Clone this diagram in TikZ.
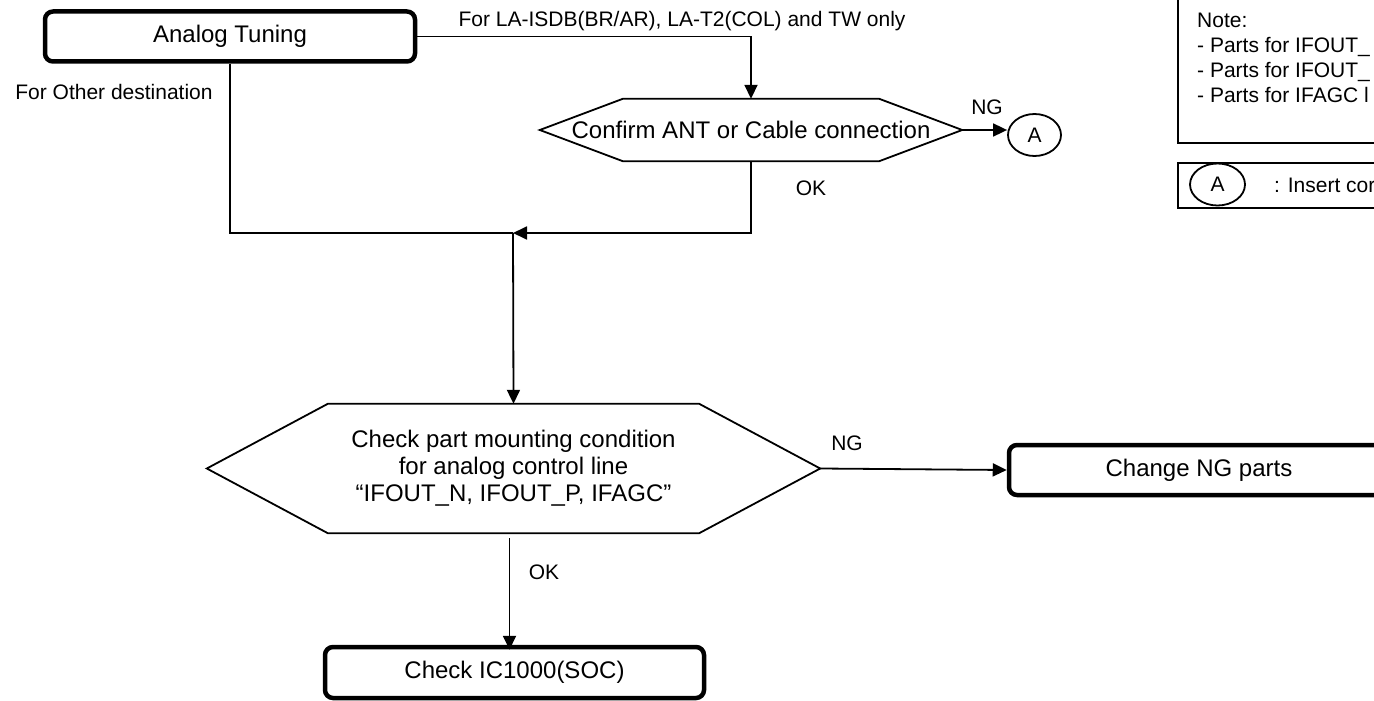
\documentclass[tikz,border=0pt]{standalone}
\usepackage{fontspec}
\setmainfont{Liberation Sans}
\usetikzlibrary{arrows.meta,shapes.geometric,calc}
\newcommand\drawhex[2]{\draw[conn] (#1.west) -- ([xshift=#2]#1.north west) -- ([xshift=-#2]#1.north east) -- (#1.east) -- ([xshift=-#2]#1.south east) -- ([xshift=#2]#1.south west) -- cycle;}
\begin{document}
\begin{tikzpicture}[x=1pt,y=-1pt,
  every node/.style={inner sep=0pt},
  mainfont/.style={font=\fontsize{24}{27}\selectfont},
  lblfont/.style={font=\fontsize{21}{25}\selectfont},
  procbox/.style={draw, line width=4.5pt, rounded corners=8pt, mainfont},
  hexnode/.style={mainfont, align=center},
  conn/.style={line width=1.8pt},
  arr/.style={conn, -{Triangle[length=14pt,width=13pt]}},
  circ/.style={draw, ellipse, line width=1.8pt, lblfont},
  lbl/.style={lblfont},
]
\useasboundingbox (0,0) rectangle (1374,701);
\clip (0,0) rectangle (1374,701);

% nodes
\node[procbox, minimum width=370, minimum height=50] (tune) at (230,36.5) {Analog Tuning};
\node[hexnode, minimum width=422, minimum height=62] (confirm) at (751,130) {Confirm ANT or Cable connection};
\drawhex{confirm}{83pt}
\node[circ, minimum width=53, minimum height=42] (A1) at (1034.5,135) {A};
\node[hexnode, minimum width=613, minimum height=129] (check) at (513.5,468.5) {Check part mounting condition\\for analog control line\\“IFOUT\_N, IFOUT\_P, IFAGC”};
\drawhex{check}{121pt}
\node[procbox, minimum width=380, minimum height=50] (change) at (1199,470) {Change NG parts};
\node[procbox, minimum width=379, minimum height=51] (soc) at (514.5,672.5) {Check IC1000(SOC)};
\coordinate (j) at (513,233);

% connectors
\draw[arr] (tune.east) -| (confirm.north);
\node[lbl] at (682,21) {For LA-ISDB(BR/AR), LA-T2(COL) and TW only};
\draw[conn] (tune.south) |- (j);
\node[lbl] at (114,92) {For Other destination};
\draw[arr] (confirm.south) |- (j);
\node[lbl] at (811,188) {OK};
\draw[arr] (j) -- (check.north);
\draw[arr] (confirm.east) -- (confirm.east -| A1.west);
\node[lbl] at (987,107) {NG};
\draw[arr] (check.east) -- (change.west);
\node[lbl] at (847,443) {NG};
\draw[arr] ([xshift=-4pt,yshift=-5pt]check.south) -- ([xshift=-4pt,yshift=-5pt]check.south |- soc.north);
\node[lbl] at (544,572) {OK};

% legend
\draw[line width=2pt] (1178,-10) rectangle (1420,143);
\node[lbl, anchor=west, align=left] (note) at (1197,57.5) {Note:\\- Parts for IFOUT\_\\- Parts for IFOUT\_\\- Parts for IFAGC l};
\draw[line width=1.8pt] (1178,163) rectangle (1420,208);
\node[circ, minimum width=55, minimum height=42] (A2) at (1217.5,184.5) {A};
\node[lbl, anchor=west] (ins) at (1274,185) {: Insert corre};
\end{tikzpicture}
\end{document}
